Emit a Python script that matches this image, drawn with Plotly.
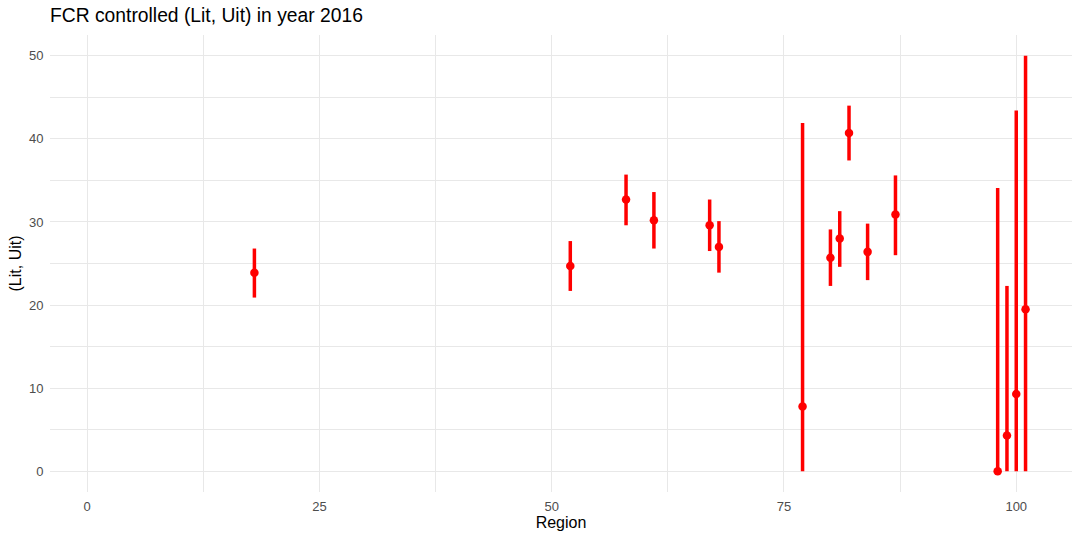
import plotly.graph_objects as go

regions = [18, 52, 58, 61, 67, 68, 77, 80, 81, 82, 84, 87, 98, 99, 100, 101]
fcr = [23.9, 24.7, 32.7, 30.2, 29.6, 27.0, 7.8, 25.7, 28.0, 40.7, 26.4, 30.9, 0.0, 4.3, 9.3, 19.5]
lit = [20.9, 21.7, 29.6, 26.8, 26.5, 23.9, 0.0, 22.3, 24.6, 37.4, 23.0, 26.0, 0.0, 0.0, 0.0, 0.0]
uit = [26.8, 27.7, 35.7, 33.6, 32.7, 30.1, 41.9, 29.1, 31.3, 44.0, 29.8, 35.6, 34.1, 22.3, 43.4, 50.0]

x_ticks = [0, 25, 50, 75, 100]
y_ticks = [0, 10, 20, 30, 40, 50]

err_plus = [u - v for u, v in zip(uit, fcr)]
err_minus = [v - l for v, l in zip(fcr, lit)]

fig = go.Figure()
fig.add_trace(go.Scatter(
    x=regions, y=fcr, mode="markers",
    marker=dict(color="#ff0000", size=8.5),
    error_y=dict(type="data", symmetric=False, array=err_plus, arrayminus=err_minus,
                 color="#ff0000", thickness=3.5, width=0),
    showlegend=False,
))

grid = "#e8e8e8"
fig.update_layout(
    width=1080, height=540,
    paper_bgcolor="white", plot_bgcolor="white",
    margin=dict(l=50, r=8, t=35, b=48),
    font=dict(family="Liberation Sans, Arial, sans-serif"),
    title=dict(text="FCR controlled (Lit, Uit) in year 2016", x=50/1080, xanchor="left",
               y=1 - 15.5/540, yanchor="middle", font=dict(size=19.3, color="black")),
    xaxis=dict(range=[-4, 106], tickvals=x_ticks, ticktext=[str(t) for t in x_ticks],
               showgrid=True, gridcolor=grid, gridwidth=1.1, zeroline=False, showline=False,
               ticks="outside", ticklen=2, tickcolor="rgba(0,0,0,0)",
               tickfont=dict(size=13, color="#4d4d4d"), automargin=False,
               minor=dict(dtick=12.5, tick0=0, showgrid=True, gridcolor=grid, gridwidth=0.55),
               title=dict(text="Region", font=dict(size=16, color="black"), standoff=4)),
    yaxis=dict(range=[-2.5, 52.5], tickvals=y_ticks, ticktext=[str(t) for t in y_ticks],
               showgrid=True, gridcolor=grid, gridwidth=1.1, zeroline=False, showline=False,
               ticks="outside", ticklen=3, tickcolor="rgba(0,0,0,0)",
               tickfont=dict(size=13, color="#4d4d4d"), automargin=False,
               minor=dict(dtick=5, tick0=0, showgrid=True, gridcolor=grid, gridwidth=0.55),
               title=dict(text="(Lit, Uit)", font=dict(size=16, color="black"), standoff=3)),
)

fig.write_html("out.html", config={"displayModeBar": False},
               post_script="document.body.style.margin='0px';")
